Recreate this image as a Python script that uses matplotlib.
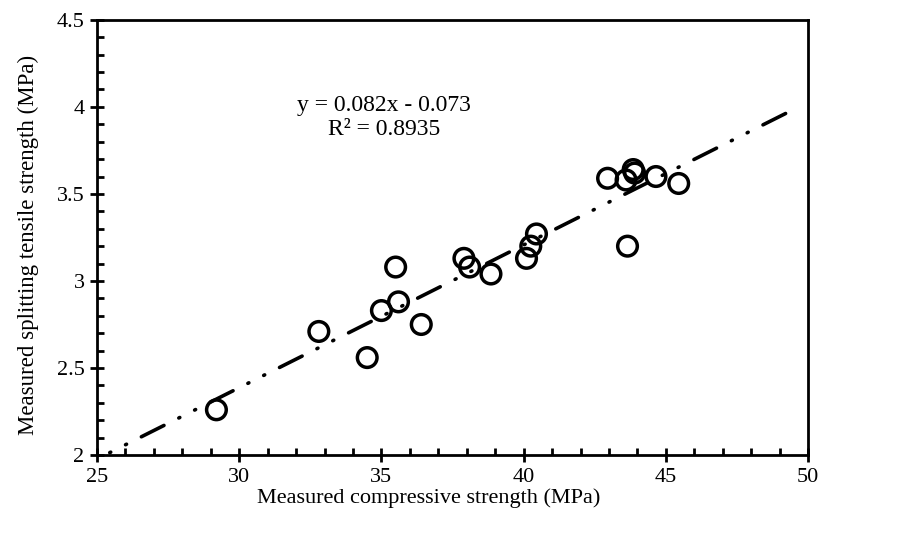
import matplotlib
matplotlib.use("Agg")
import matplotlib.pyplot as plt
import numpy as np
from matplotlib.ticker import MultipleLocator

compressive = [29.2, 32.8, 34.5, 35.0, 35.5, 35.6, 36.4, 37.9, 38.1, 38.85,
               40.1, 40.25, 40.45, 42.95, 43.6, 43.65, 43.85, 43.9, 44.65, 45.45]
tensile = [2.26, 2.71, 2.56, 2.83, 3.08, 2.88, 2.75, 3.13, 3.08, 3.04,
           3.13, 3.20, 3.27, 3.59, 3.58, 3.20, 3.64, 3.62, 3.60, 3.56]
slope, intercept = 0.082, -0.073
trend_x = [25.45, 49.65]
equation = "y = 0.082x - 0.073\nR² = 0.8935"
xlabel = "Measured compressive strength (MPa)"
ylabel = "Measured splitting tensile strength (MPa)"

plt.rcParams['font.family'] = ['Liberation Serif', 'DejaVu Serif']

fig = plt.figure(figsize=(9.06, 5.36), dpi=100)
ax = fig.add_axes([0.107, 0.151, 0.785, 0.812])

tx = np.array(trend_x)
ty = slope * tx + intercept
ax.plot(tx, ty, color='black', lw=2.6, dashes=(0.3, 4.6, 0.3, 4.6, 7.0, 4.6),
        dash_capstyle='round', solid_capstyle='round', zorder=2)
ax.scatter(compressive, tensile, s=200, facecolors='none', edgecolors='black',
           linewidths=2.5, zorder=3)

ax.set_xlim(25, 50)
ax.set_ylim(2, 4.5)
ax.xaxis.set_major_locator(MultipleLocator(5))
ax.xaxis.set_minor_locator(MultipleLocator(1))
ax.yaxis.set_major_locator(MultipleLocator(0.5))
ax.yaxis.set_minor_locator(MultipleLocator(0.1))
ax.tick_params(which='major', direction='inout', length=10, width=2, labelsize=16, pad=4)
ax.tick_params(which='minor', direction='in', length=5, width=2)
ax.yaxis.set_major_formatter(matplotlib.ticker.FuncFormatter(lambda v, p: f"{v:g}"))
for s in ax.spines.values():
    s.set_linewidth(2)

ax.set_xlabel(xlabel, fontsize=16)
ax.set_ylabel(ylabel, fontsize=16.5)
ax.xaxis.set_label_coords(0.466, -0.076)
ax.yaxis.set_label_coords(-0.081, 0.483)
ax.text(35.1, 3.94, equation, fontsize=17, ha='center', va='center', linespacing=1.15)

fig.savefig("out.png", dpi=100)
